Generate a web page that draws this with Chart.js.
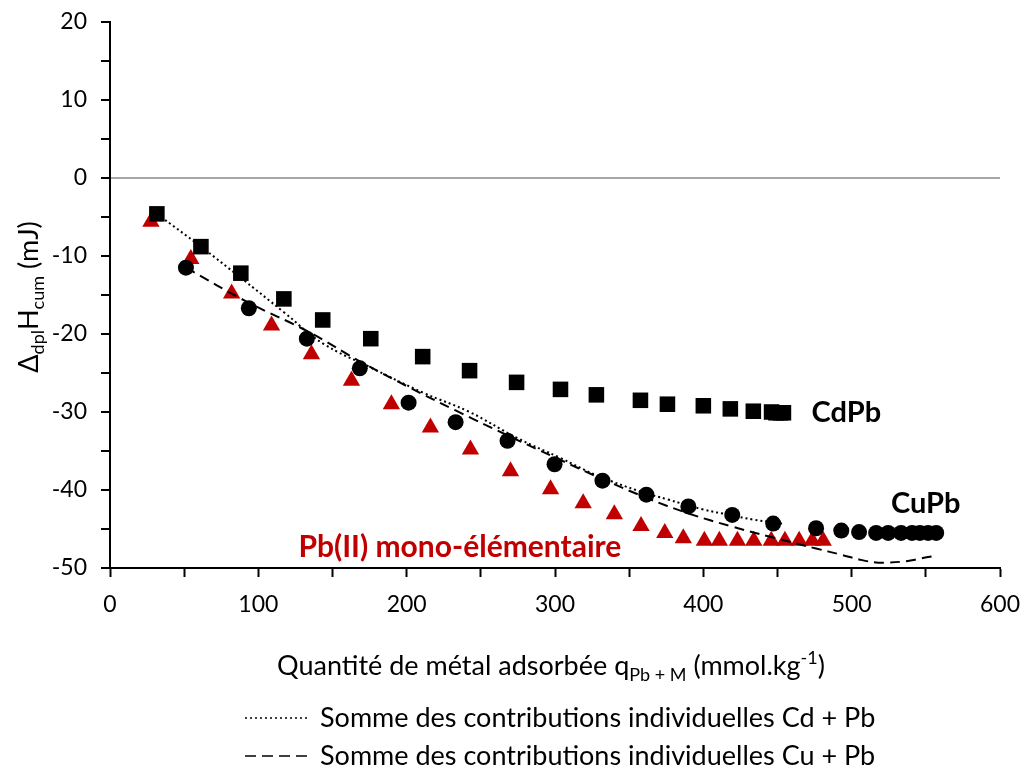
<!DOCTYPE html>
<html>
<head>
<meta charset="utf-8">
<script src="https://cdn.jsdelivr.net/npm/chart.js@4/dist/chart.umd.min.js"></script>
<style>
  html, body { margin: 0; padding: 0; background: #fff; }
  #wrap { width: 1027px; height: 769px; }
</style>
</head>
<body>
<div id="wrap"><canvas id="graphCanvas" width="1027" height="769"></canvas></div>
<script>
// CdPb (squares)
const cdpbX = [31.6, 61.3, 88.2, 117.2, 143.4, 175.8, 210.8, 242.4, 274.1, 303.7, 327.9, 357.6, 375.8, 400, 418.2, 433.7, 446, 449, 452, 454];
const cdpbY = [-4.6, -8.8, -12.2, -15.5, -18.2, -20.6, -22.9, -24.7, -26.2, -27.1, -27.8, -28.5, -29.0, -29.2, -29.6, -29.9, -30.0, -30.1, -30.1, -30.1];
// CuPb (circles)
const cupbX = [51.2, 93.6, 132.7, 168.4, 201.3, 233, 268, 299.7, 332, 361.6, 389.9, 419.5, 447.1, 476, 493, 505, 516.5, 524.6, 533.3, 540.7, 546, 551.5, 557];
const cupbY = [-11.5, -16.7, -20.6, -24.4, -28.8, -31.3, -33.7, -36.7, -38.8, -40.6, -42.1, -43.2, -44.3, -44.9, -45.2, -45.4, -45.5, -45.5, -45.5, -45.5, -45.5, -45.5, -45.5];
// Pb(II) mono-élémentaire (triangles)
const pbX = [27.6, 54.5, 82, 108.9, 135.8, 162.8, 189.7, 216, 243, 270, 297, 319, 340, 358, 374, 386.5, 400.7, 410.8, 423, 434, 445.8, 455, 464.6, 473.4, 480.8];
const pbY = [-5.6, -10.4, -14.8, -18.9, -22.6, -26.0, -29.0, -32.0, -34.8, -37.6, -39.9, -41.7, -43.1, -44.6, -45.5, -46.2, -46.5, -46.5, -46.5, -46.5, -46.5, -46.5, -46.5, -46.5, -46.5];
// sums of individual contributions
const sumCdY = [-4.6, -8.8, -12.8, -17.2, -21.2, -24.3, -27.5, -30.0, -33.3, -35.9, -38.1, -40.2, -41.2, -42.5, -43.2, -43.8, -44.1, -44.2, -44.3, -44.3];
const sumCuY = [-11.5, -16.0, -19.6, -23.5, -26.8, -29.8, -33.0, -35.8, -38.6, -41.0, -43.0, -44.7, -46.1, -47.5, -48.3, -48.9, -49.3, -49.3, -49.2, -49.0, -48.8, -48.6, -48.4];

const legendLabels = ['Somme des contributions individuelles Cd + Pb', 'Somme des contributions individuelles Cu + Pb'];
const seriesLabels = ['CdPb', 'CuPb', 'Pb(II) mono-élémentaire'];

const FONT = 'Lato';
const RED = '#C00000';

function pts(xs, ys) {
  return xs.map((x, i) => ({ x: x, y: ys[i] }));
}

// draw a run of text pieces (with sub/superscripts), centred on cx
function drawRich(ctx, parts, cx, cy) {
  let total = 0;
  parts.forEach(p => {
    ctx.font = p.size + 'px ' + FONT;
    p.w = ctx.measureText(p.t).width;
    total += p.w;
  });
  let x = cx - total / 2;
  ctx.textAlign = 'left';
  ctx.textBaseline = 'alphabetic';
  parts.forEach(p => {
    ctx.font = p.size + 'px ' + FONT;
    ctx.fillText(p.t, x, cy + (p.dy || 0));
    x += p.w;
  });
}

const textPlugin = {
  id: 'texts',
  afterDraw(chart) {
    const ctx = chart.ctx;
    const xs = chart.scales.x, ys = chart.scales.y;
    ctx.save();
    ctx.fillStyle = '#000';

    // x axis title
    drawRich(ctx, [
      { t: 'Quantité de métal adsorbée q', size: 27 },
      { t: 'Pb + M', size: 18, dy: 6 },
      { t: ' (mmol.kg', size: 27 },
      { t: '-1', size: 18, dy: -11 },
      { t: ')', size: 27 }
    ], 551, 675);

    // y axis title
    ctx.save();
    ctx.translate(38, 297);
    ctx.rotate(-Math.PI / 2);
    drawRich(ctx, [
      { t: 'Δ', size: 27 },
      { t: 'dpl', size: 18, dy: 6 },
      { t: 'H', size: 27 },
      { t: 'cum', size: 18, dy: 6 },
      { t: ' (mJ)', size: 27 }
    ], 0, 0);
    ctx.restore();

    // series labels inside the plot
    ctx.textAlign = 'left';
    ctx.textBaseline = 'middle';
    ctx.fillStyle = '#000';
    ctx.font = 'bold 29px ' + FONT;
    ctx.fillText(seriesLabels[0], xs.getPixelForValue(473), ys.getPixelForValue(-30.1));
    ctx.fillText(seriesLabels[1], xs.getPixelForValue(526.5), ys.getPixelForValue(-41.7));
    ctx.fillStyle = RED;
    ctx.font = 'bold 30px ' + FONT;
    ctx.fillText(seriesLabels[2], xs.getPixelForValue(127), ys.getPixelForValue(-47.4));

    // legend below the chart
    ctx.fillStyle = '#000';
    ctx.strokeStyle = '#000';
    ctx.lineWidth = 1.5;
    [[2, 3], [11, 6]].forEach((dash, i) => {
      const ly = 718 + i * 38;
      ctx.setLineDash(dash);
      ctx.beginPath();
      ctx.moveTo(245, ly);
      ctx.lineTo(309, ly);
      ctx.stroke();
      ctx.setLineDash([]);
      ctx.font = '27px ' + FONT;
      ctx.textAlign = 'left';
      ctx.textBaseline = 'middle';
      ctx.fillText(legendLabels[i], 320, ly);
    });
    ctx.restore();
  }
};

document.addEventListener('DOMContentLoaded', () => {
  const ctx = document.getElementById('graphCanvas').getContext('2d');

  const config = {
    type: 'scatter',
    data: {
      datasets: [
        {
          label: legendLabels[0],
          data: pts(cdpbX, sumCdY),
          showLine: true,
          borderColor: '#000',
          borderWidth: 2,
          borderDash: [2, 3],
          pointRadius: 0,
          tension: 0.4,
          order: 0
        },
        {
          label: legendLabels[1],
          data: pts(cupbX, sumCuY),
          showLine: true,
          borderColor: '#000',
          borderWidth: 2,
          borderDash: [10, 6],
          pointRadius: 0,
          tension: 0.4,
          order: 0
        },
        {
          label: seriesLabels[0],
          data: pts(cdpbX, cdpbY),
          pointStyle: 'rect',
          pointRadius: 11,
          backgroundColor: '#000',
          borderColor: '#000',
          borderWidth: 0,
          order: 1
        },
        {
          label: seriesLabels[1],
          data: pts(cupbX, cupbY),
          pointStyle: 'circle',
          pointRadius: 8,
          backgroundColor: '#000',
          borderColor: '#000',
          borderWidth: 0,
          order: 2
        },
        {
          label: seriesLabels[2],
          data: pts(pbX, pbY),
          pointStyle: 'triangle',
          pointRadius: 10,
          backgroundColor: RED,
          borderColor: RED,
          borderWidth: 0,
          order: 3
        }
      ]
    },
    options: {
      responsive: false,
      animation: false,
      events: [],
      layout: { padding: { top: 22, right: 27, left: 0, bottom: 0 } },
      plugins: {
        legend: { display: false },
        tooltip: { enabled: false }
      },
      scales: {
        x: {
          type: 'linear',
          position: 'bottom',
          min: 0,
          max: 600,
          ticks: {
            stepSize: 50,
            autoSkip: false,
            maxRotation: 0,
            padding: 14,
            color: '#000',
            font: { family: FONT, size: 23 },
            callback: v => (v % 100 === 0 ? String(v) : '')
          },
          grid: { drawOnChartArea: false, tickLength: 9, tickColor: '#000', tickWidth: 2 },
          border: { color: '#000', width: 2 },
          afterFit: s => { s.height = 201; s.paddingLeft = 0; s.paddingRight = 0; }
        },
        y: {
          type: 'linear',
          position: 'left',
          min: -50,
          max: 20,
          ticks: {
            stepSize: 5,
            autoSkip: false,
            padding: 14,
            color: '#000',
            font: { family: FONT, size: 23 },
            callback: v => (v % 10 === 0 ? String(v) : '')
          },
          grid: {
            drawOnChartArea: true,
            color: c => (c.tick && c.tick.value === 0 ? '#A6A6A6' : 'rgba(0,0,0,0)'),
            lineWidth: 2,
            tickLength: 9,
            tickColor: '#000',
            tickWidth: 2
          },
          border: { color: '#000', width: 2 },
          afterFit: s => { s.width = 110; s.paddingTop = 0; s.paddingBottom = 0; }
        }
      }
    },
    plugins: [textPlugin]
  };

  new Chart(ctx, config);
});
</script>
</body>
</html>
